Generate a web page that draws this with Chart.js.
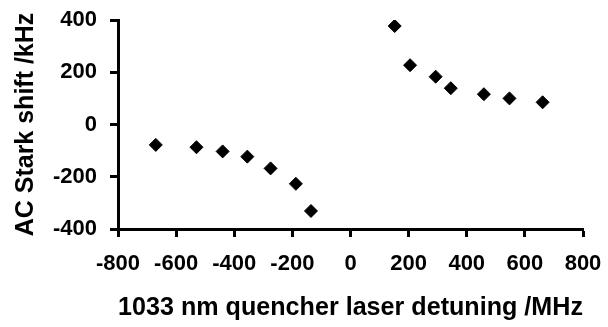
<!DOCTYPE html>
<html>
<head>
<meta charset="utf-8">
<script src="https://cdn.jsdelivr.net/npm/chart.js@4/dist/chart.umd.min.js"></script>
<style>
html,body{margin:0;padding:0;background:#fff;}
#wrap{width:608px;height:327px;position:relative;}
</style>
</head>
<body>
<div id="wrap"><canvas id="c" width="608" height="327"></canvas></div>
<script>
const detuning = [-670, -530, -440, -355, -275, -188, -136, 152, 205, 293, 345, 459, 547, 661];
const starkShift = [-78, -87, -103, -123, -168, -227, -331, 377, 227, 183, 139, 116, 100, 85];
const xTicks = [-800, -600, -400, -200, 0, 200, 400, 600, 800];
const yTicks = [-400, -200, 0, 200, 400];
const xTitle = '1033 nm quencher laser detuning /MHz';
const yTitle = 'AC Stark shift /kHz';

const points = detuning.map((x, i) => ({x: x, y: starkShift[i]}));
const FAMILY = '"Liberation Sans", Arial, sans-serif';
const TICKFONT = {family: FAMILY, weight: 'bold', size: 22};
const XTITLEFONT = {family: FAMILY, weight: 'bold', size: 25.6};
const YTITLEFONT = {family: FAMILY, weight: 'bold', size: 25};

function noPad(s) {
  s.paddingTop = 0; s.paddingBottom = 0; s.paddingLeft = 0; s.paddingRight = 0;
}

new Chart(document.getElementById('c'), {
  type: 'scatter',
  data: {
    datasets: [{
      data: points,
      pointStyle: 'rectRot',
      pointRadius: 6.5,
      pointBackgroundColor: '#000',
      pointBorderColor: '#000',
      pointBorderWidth: 1,
      showLine: false
    }]
  },
  options: {
    responsive: false,
    animation: false,
    devicePixelRatio: 1,
    layout: {padding: {top: 20, right: 25, left: 0, bottom: 0}},
    plugins: {legend: {display: false}, tooltip: {enabled: false}},
    scales: {
      x: {
        type: 'linear',
        min: -800, max: 800,
        afterBuildTicks: s => { s.ticks = xTicks.map(v => ({value: v})); },
        afterFit: s => { s.height = 98; noPad(s); },
        border: {display: true, color: '#000', width: 3},
        grid: {display: true, drawOnChartArea: false, drawTicks: true, tickLength: 8, tickWidth: 3, tickColor: '#000', color: '#000'},
        ticks: {color: '#000', font: TICKFONT, padding: 14, maxRotation: 0, autoSkip: false},
        title: {display: true, text: xTitle, color: '#000', font: XTITLEFONT, padding: {top: 12, bottom: 4}}
      },
      y: {
        type: 'linear',
        min: -400, max: 400,
        afterBuildTicks: s => { s.ticks = yTicks.map(v => ({value: v})); },
        afterFit: s => { s.width = 118; noPad(s); },
        border: {display: true, color: '#000', width: 3},
        grid: {display: true, drawOnChartArea: false, drawTicks: true, tickLength: 8, tickWidth: 3, tickColor: '#000', color: '#000'},
        ticks: {color: '#000', font: TICKFONT, padding: 13, autoSkip: false},
        title: {display: true, text: yTitle, color: '#000', font: YTITLEFONT, padding: {top: 11, bottom: 0}}
      }
    }
  }
});
</script>
</body>
</html>
